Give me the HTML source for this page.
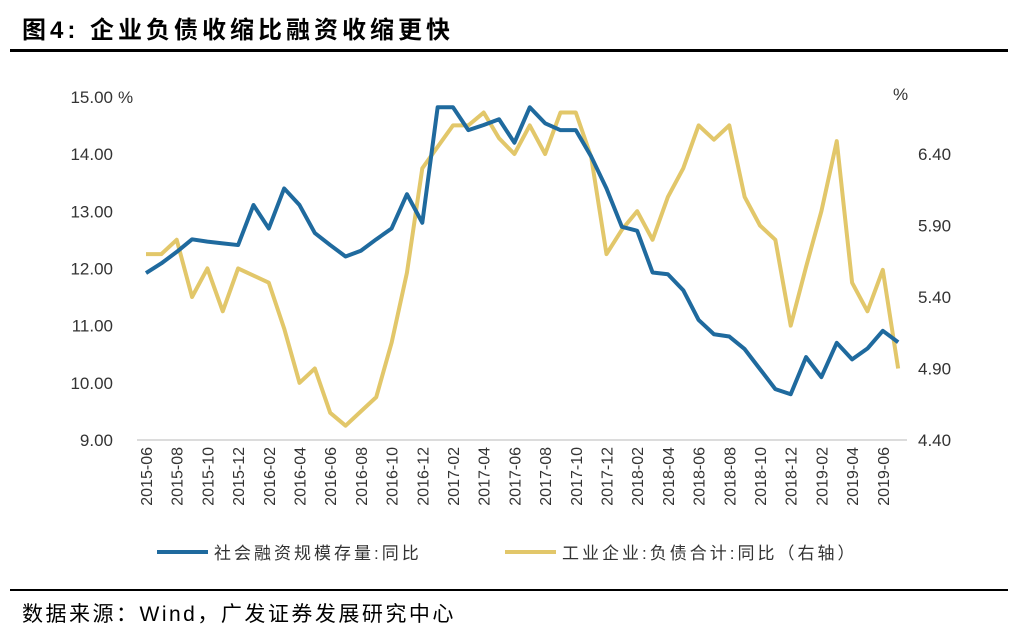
<!DOCTYPE html>
<html><head><meta charset="utf-8"><style>
body{margin:0;background:#fff;width:1018px;height:634px;overflow:hidden;font-family:"Liberation Sans","Noto Sans CJK SC",sans-serif;}
</style></head><body>
<svg width="1018" height="634" xmlns="http://www.w3.org/2000/svg">
<text x="22" y="38" font-size="24" font-weight="bold" letter-spacing="4" font-family="Liberation Sans, Noto Sans CJK SC, sans-serif">图4:  企业负债收缩比融资收缩更快</text>
<rect x="10" y="49" width="998" height="3" fill="#000"/>
<g id="plot"></g>
<rect x="10" y="589" width="998" height="2" fill="#000"/>
<text x="22" y="621" font-size="21" letter-spacing="2.5" font-family="Liberation Sans, Noto Sans CJK SC, sans-serif">数据来源：Wind，广发证券发展研究中心</text>
</svg>
<script>
const months=["2015-06","2015-07","2015-08","2015-09","2015-10","2015-11","2015-12","2016-01","2016-02","2016-03","2016-04","2016-05","2016-06","2016-07","2016-08","2016-09","2016-10","2016-11","2016-12","2017-01","2017-02","2017-03","2017-04","2017-05","2017-06","2017-07","2017-08","2017-09","2017-10","2017-11","2017-12","2018-01","2018-02","2018-03","2018-04","2018-05","2018-06","2018-07","2018-08","2018-09","2018-10","2018-11","2018-12","2019-01","2019-02","2019-03","2019-04","2019-05","2019-06","2019-07"];
const socialFinancing=[11.92,12.09,12.29,12.51,12.47,12.44,12.41,13.11,12.70,13.40,13.11,12.62,12.41,12.21,12.31,12.51,12.70,13.30,12.80,14.82,14.82,14.42,14.51,14.61,14.20,14.82,14.54,14.42,14.42,13.96,13.40,12.73,12.66,11.93,11.90,11.62,11.10,10.85,10.81,10.59,10.24,9.89,9.80,10.45,10.10,10.70,10.41,10.60,10.91,10.71];
const industrialDebt=[5.70,5.70,5.80,5.40,5.60,5.30,5.60,5.55,5.50,5.18,4.80,4.90,4.59,4.50,4.60,4.70,5.08,5.57,6.30,6.45,6.60,6.60,6.69,6.51,6.40,6.60,6.40,6.69,6.69,6.38,5.70,5.87,6.00,5.80,6.10,6.30,6.60,6.50,6.60,6.10,5.90,5.80,5.20,5.61,6.00,6.49,5.50,5.30,5.59,4.90];
const leftTicks=[9,10,11,12,13,14,15];
const rightTicks=[4.40,4.90,5.40,5.90,6.40];
const NS="http://www.w3.org/2000/svg";
const g=document.getElementById('plot');
const X0=146,DX=15.35,X_LEFT=137,X_RIGHT=907,Y_BOT=440;
const xs=i=>X0+i*DX;
const yl=v=>440-(v-9)*57.17;
const yr=v=>440-(v-4.4)*143;
function mk(tag,attrs){const e=document.createElementNS(NS,tag);for(const k in attrs)e.setAttribute(k,attrs[k]);g.appendChild(e);return e;}
let ax=mk('line',{x1:X_LEFT,x2:X_RIGHT,y1:Y_BOT,y2:Y_BOT,stroke:'#d0d0d0','stroke-width':1.5});


leftTicks.forEach(v=>{const t=mk('text',{x:113,y:yl(v)+6,'font-size':17,'text-anchor':'end',fill:'#333'});t.textContent=v.toFixed(2);

});
let pl=mk('text',{x:118,y:103,'font-size':17,fill:'#333'});pl.textContent='%';


rightTicks.forEach(v=>{const t=mk('text',{x:918,y:yr(v)+6,'font-size':17,fill:'#333'});t.textContent=v.toFixed(2);

});
let pr=mk('text',{x:893,y:100,'font-size':17,fill:'#333'});pr.textContent='%';


months.forEach((m,i)=>{if(i%2)return;const x=xs(i)+6;const t=mk('text',{x:x,y:447,'font-size':16,'text-anchor':'end',fill:'#333',transform:`rotate(-90 ${x} 447)`});t.textContent=m;

});
let p1=mk('polyline',{points:industrialDebt.map((v,i)=>xs(i)+','+yr(v)).join(' '),fill:'none',stroke:'#E2C76A','stroke-width':4,'stroke-linejoin':'round'});


let p2=mk('polyline',{points:socialFinancing.map((v,i)=>xs(i)+','+yl(v)).join(' '),fill:'none',stroke:'#1F6A9E','stroke-width':4,'stroke-linejoin':'round'});


let l1=mk('line',{x1:157,x2:208,y1:552,y2:552,stroke:'#1F6A9E','stroke-width':4});


let t1=mk('text',{x:214,y:559,'font-size':17,'letter-spacing':3,fill:'#333'});t1.textContent='社会融资规模存量:同比';


let l2=mk('line',{x1:505,x2:556,y1:552,y2:552,stroke:'#E2C76A','stroke-width':4});


let t2=mk('text',{x:562,y:559,'font-size':17,'letter-spacing':3,fill:'#333'});t2.textContent='工业企业:负债合计:同比（右轴）';


</script>
</body></html>
